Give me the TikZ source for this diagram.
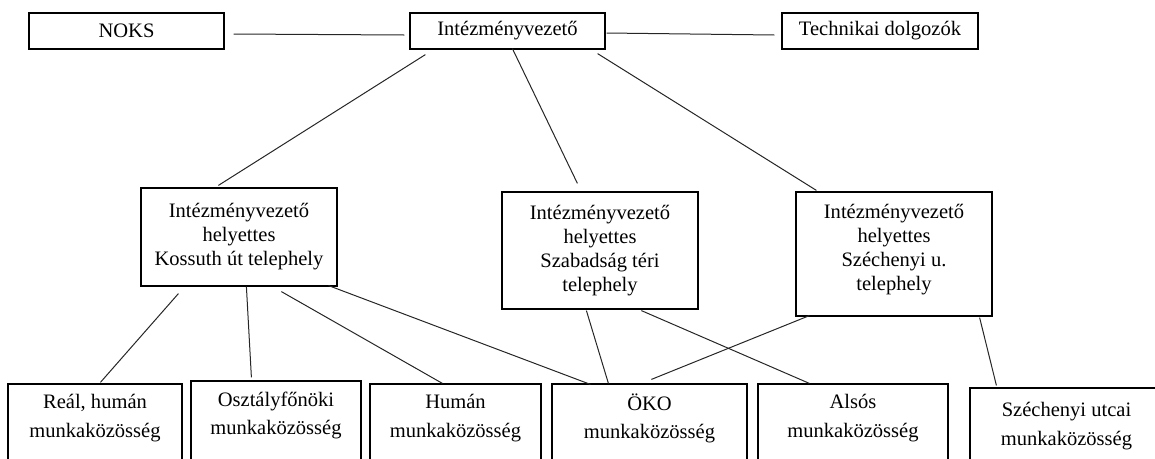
\documentclass[tikz,border=0pt]{standalone}
\usepackage{fontspec}
\setmainfont{Liberation Serif}
\usetikzlibrary{calc,fit}
\tikzset{
  box/.style={draw=black, line width=0.9pt, inner sep=0pt, align=center},
  lbl/.style={inner sep=0pt, align=center, anchor=north, font=\fontsize{15.4}{21.5}\selectfont},
  conn/.style={draw=black!85, line width=0.75pt},
}
\begin{document}
\begin{tikzpicture}[x=0.75pt, y=-0.75pt, font=\fontsize{15.4}{18}\selectfont]
\useasboundingbox (0,0) rectangle (1155,458);
\clip (0,0) rectangle (1155,458);
% top row
\node[box, fit={(29,13) (224,49)}] (noks) {};
\node at (noks.center) {NOKS};
\node[box, fit={(410,13) (605,49)}] (top) {};
\node at (top.center) {Intézményvezető};
\node[box, fit={(782,13) (978,49)}] (tech) {};
\node at (tech.center) {Technikai dolgozók};
% middle row
\node[box, fit={(141,188) (337,286)}] (kos) {};
\node[align=center, inner sep=0pt] at (kos.center) {Intézményvezető\\helyettes\\Kossuth út telephely};
\node[box, fit={(502,192) (698,309)}] (szab) {};
\node[align=center, inner sep=0pt] at (szab.center) {Intézményvezető\\helyettes\\Szabadság téri\\telephely};
\node[box, fit={(796,192) (992,316)}] (szech) {};
\node[align=center, inner sep=0pt] at ($(szech.center)+(0,-4)$) {Intézményvezető\\helyettes\\Széchenyi u.\\telephely};
% bottom row
\node[box, fit={(8,384) (182,480)}] (real) {};
\node[lbl] at ($(real.north)+(0,11)$) {Reál, humán\\munkaközösség};
\node[box, fit={(191,381) (361,480)}] (oszt) {};
\node[lbl] at ($(oszt.north)+(0,11)$) {Osztályfőnöki\\munkaközösség};
\node[box, fit={(370,384) (541,480)}] (human) {};
\node[lbl] at ($(human.north)+(0,11)$) {Humán\\munkaközösség};
\node[box, fit={(552,384) (747,480)}] (oko) {};
\node[lbl] at ($(oko.north)+(0,10)$) {ÖKO\\munkaközösség};
\node[box, fit={(758,384) (948,480)}] (also) {};
\node[lbl] at ($(also.north)+(0,11)$) {Alsós\\munkaközösség};
\node[box, fit={(970,388) (1165,480)}] (szu) {};
\node[lbl] at ($(szu.north)+(-1,15)$) {Széchenyi utcai\\munkaközösség};
% connectors
\draw[conn] ($(noks.east)+(9,3)$) -- ($(top.west)+(-5,4)$);
\draw[conn] ($(top.east)+(1,2)$) -- ($(tech.west)+(-7,4)$);
\draw[conn] ($(top.south west)+(16,5)$) -- ($(kos.north west)+(78,-2)$);
\draw[conn] ($(top.south west)+(103,-1)$) -- ($(szab.north west)+(76,-8)$);
\draw[conn] ($(top.south east)+(-8,4)$) -- ($(szech.north west)+(21,-1)$);
\draw[conn] ($(kos.south west)+(38,7)$) -- ($(real.north west)+(93,-1)$);
\draw[conn] ($(kos.south west)+(106,0)$) -- ($(oszt.north west)+(61,-3)$);
\draw[conn] ($(kos.south west)+(141,5)$) -- ($(human.north west)+(73,0)$);
\draw[conn] ($(kos.south east)+(-9,-1)$) -- ($(oko.north west)+(39,1)$);
\draw[conn] ($(szab.south west)+(85,1)$) -- ($(oko.north west)+(57,0)$);
\draw[conn] ($(szech.south west)+(14,-1)$) -- ($(oko.north west)+(100,-4)$);
\draw[conn] ($(szab.south west)+(140,1)$) -- ($(also.north west)+(52,0)$);
\draw[conn] ($(szech.south east)+(-13,1)$) -- ($(szu.north west)+(27,-2)$);
\end{tikzpicture}
\end{document}
